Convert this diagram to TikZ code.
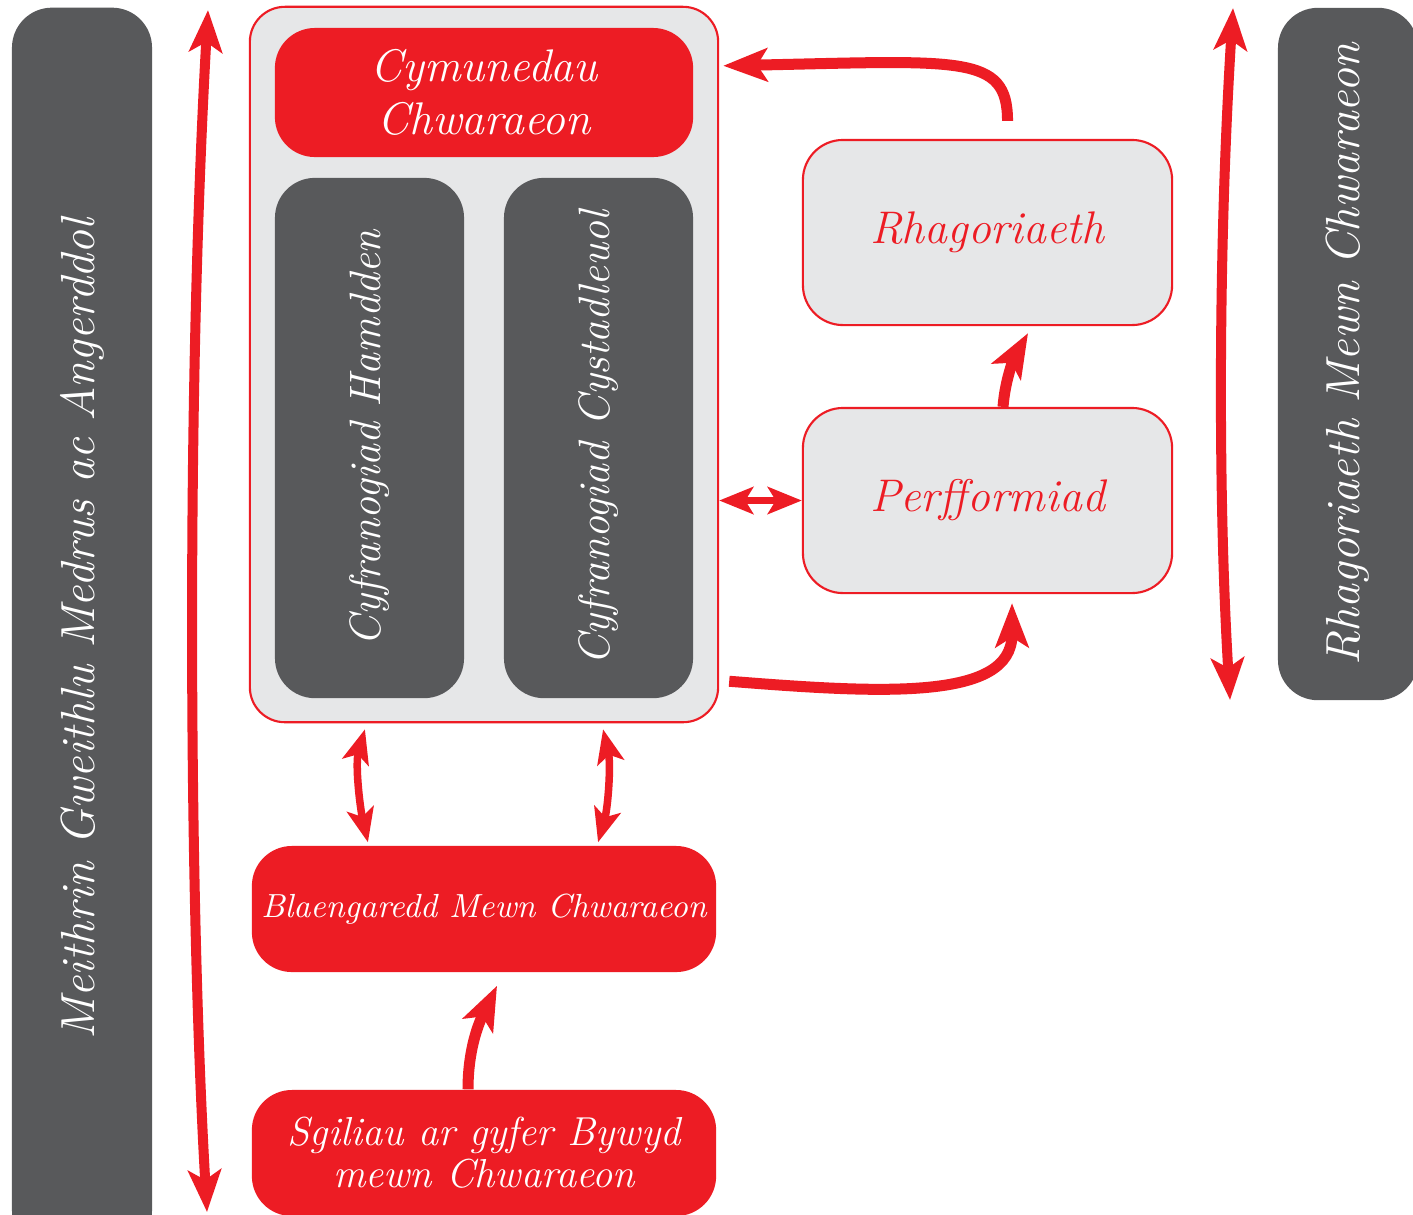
\documentclass[tikz,border=0pt]{standalone}
\usepackage{tikz}
\usetikzlibrary{positioning, arrows.meta, calc}
\definecolor{wred}{HTML}{ED1C24}
\definecolor{wdark}{HTML}{58595B}
\definecolor{wlight}{HTML}{E6E7E8}
\newcommand{\hand}[1]{\fontsize{#1}{1.2\dimexpr #1pt\relax}\selectfont\itshape}

\begin{document}
\begin{tikzpicture}[x=0.01cm, y=-0.01cm,
    redbox/.style={rectangle, rounded corners=0.4cm, fill=wred, text=white, align=center, inner sep=0pt},
    darkbox/.style={rectangle, rounded corners=0.4cm, fill=wdark, text=white, align=center, inner sep=0pt},
    greybox/.style={rectangle, rounded corners=0.4cm, fill=wlight, draw=wred, line width=0.6pt, text=wred, align=center, inner sep=0pt},
    longarrow/.style={draw=wred, line width=0.1cm, {Stealth[length=0.42cm,width=0.33cm,inset=0.1cm]}-{Stealth[length=0.42cm,width=0.33cm,inset=0.1cm]}},
    bigarrow/.style={draw=wred, line width=0.11cm, -{Stealth[length=0.44cm,width=0.33cm,inset=0.1cm]}},
    smallarrow/.style={draw=wred, line width=0.075cm, {Stealth[length=0.34cm,width=0.27cm,inset=0.08cm]}-{Stealth[length=0.34cm,width=0.27cm,inset=0.08cm]}}]

    \useasboundingbox[fill=white] (0,0) rectangle (1413,1214);

    % Side bars
    \node[darkbox, rotate=90, minimum width=12.42cm, minimum height=1.40cm] (leftbar) at (82,629)
        {\hand{13.6}Meithrin Gweithlu Medrus ac Angerddol};
    \node[darkbox, rotate=90, minimum width=6.92cm, minimum height=1.40cm] (rightbar) at (1348,354)
        {\hand{13.6}Rhagoriaeth Mewn Chwaraeon};

    % Main box and what sits in it
    \node[greybox, rounded corners=0.35cm, minimum width=4.68cm, minimum height=7.15cm] (main) at (484,364.5) {};
    \node[redbox, minimum width=4.18cm, minimum height=1.29cm] (cymu) at (484,92.5)
        {\hand{13}Cymunedau\\[3pt]\hand{13}Chwaraeon};
    \node[darkbox, rotate=90, minimum width=5.20cm, minimum height=1.89cm] (hamd) at (369.5,438)
        {\hand{12.5}Cyfranogiad Hamdden};
    \node[darkbox, rotate=90, minimum width=5.20cm, minimum height=1.89cm] (cyst) at (598.5,438)
        {\hand{12.5}Cyfranogiad Cystadleuol};

    % Right hand boxes
    \node[greybox, minimum width=3.69cm, minimum height=1.85cm] (rhag) at (987.5,232.5)
        {\hand{13}Rhagoriaeth};
    \node[greybox, minimum width=3.69cm, minimum height=1.85cm] (perf) at (987.5,500.5)
        {\hand{13}Perfformiad};

    % Bottom boxes
    \node[redbox, minimum width=4.64cm, minimum height=1.26cm] (blaen) at (484,909)
        {\hand{9.5}Blaengaredd Mewn Chwaraeon};
    \node[redbox, minimum width=4.64cm, minimum height=1.26cm] (sgil) at (484,1153)
        {\hand{11.5}Sgiliau ar gyfer Bywyd\\[0pt]\hand{11.5}mewn Chwaraeon};

    % Long arrows
    \coordinate (lt) at (208,10);
    \coordinate (lb) at (207,1212);
    \coordinate (rt) at (1233,8);
    \coordinate (rb) at (1230,700);
    \draw[longarrow] (lt) .. controls (186,400) and (189,900) .. (lb);
    \draw[longarrow] (rt) .. controls (1218,250) and (1218,500) .. (rb);

    % Arrows between boxes
    \draw[bigarrow] ([xshift=0.2cm,yshift=0.18cm]rhag.north) .. controls +(0,-67) and +(238,-5) .. ([xshift=0.04cm,yshift=-0.6cm]main.north east);
    \draw[smallarrow] (main.east |- perf.west) -- (perf.west);
    \draw[bigarrow] ([xshift=0.155cm]perf.north) .. controls +(2,-28) and +(-13,23) .. ([xshift=0.405cm,yshift=-0.07cm]rhag.south);
    \draw[bigarrow] ([xshift=0.1cm,yshift=0.42cm]main.south east) .. controls +(152,12) and +(0,98) .. ([xshift=0.245cm,yshift=-0.09cm]perf.south);
    \draw[smallarrow] ([xshift=-1.19cm,yshift=-0.06cm]main.south) .. controls +(-10,35) and +(-8,-35) .. ([xshift=-1.16cm,yshift=0.03cm]blaen.north);
    \draw[smallarrow] ([xshift=1.19cm,yshift=-0.06cm]main.south) .. controls +(8,35) and +(10,-35) .. ([xshift=1.14cm,yshift=0.03cm]blaen.north);
    \draw[bigarrow] ([xshift=-0.16cm]sgil.north) .. controls +(0,-50) and +(-12,25) .. ([xshift=0.13cm,yshift=-0.13cm]blaen.south);

\end{tikzpicture}
\end{document}
